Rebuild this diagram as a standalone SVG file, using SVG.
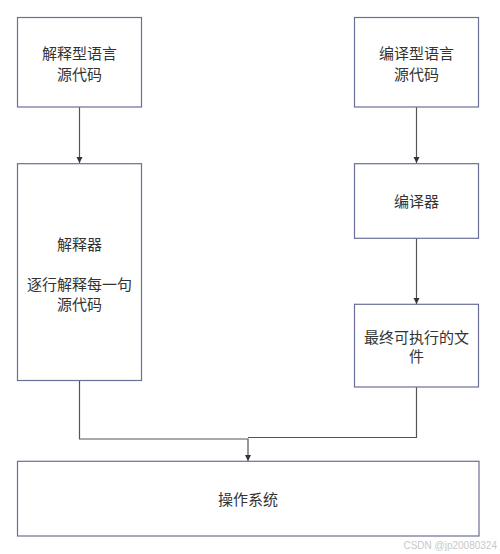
<svg xmlns="http://www.w3.org/2000/svg" width="500" height="554" viewBox="0 0 500 554">
<style>
.box{fill:#ffffff;stroke:#6b6f98;stroke-width:1.2}
.t{font-family:"Noto Sans CJK SC","Noto Sans",sans-serif;font-size:15px;fill:#333333;text-anchor:middle}
.c{fill:none;stroke:#555555;stroke-width:1.2}
.wm{font-family:"Liberation Sans",Arial,sans-serif;font-size:10px;fill:#c8c8c8;text-anchor:end}
</style>
<defs>
<marker id="arr" markerWidth="8" markerHeight="8" refX="6" refY="3" orient="auto" markerUnits="userSpaceOnUse">
<path d="M0,0 L6,3 L0,6 Z" fill="#333333"/>
</marker>
</defs>
<rect width="500" height="554" fill="#ffffff"/>
<g id="connectors">
<path class="c" d="M79.5,107 V163" marker-end="url(#arr)"/>
<path class="c" d="M416.5,107 V163" marker-end="url(#arr)"/>
<path class="c" d="M416.5,238.3 V304" marker-end="url(#arr)"/>
<path class="c" d="M79.5,380.7 V439 H248 V461" marker-end="url(#arr)"/>
<path class="c" d="M416.5,387 V437.5 H248"/>
</g>
<g id="interp-src">
<rect class="box" x="17.5" y="17.5" width="124" height="89.5"/>
<text class="t" x="79.5" y="58.5">解释型语言</text>
<text class="t" x="79.5" y="79.5">源代码</text>
</g>
<g id="compile-src">
<rect class="box" x="354.5" y="17.5" width="124" height="89.5"/>
<text class="t" x="416.5" y="58.5">编译型语言</text>
<text class="t" x="416.5" y="79.5">源代码</text>
</g>
<g id="interpreter">
<rect class="box" x="17.5" y="163.7" width="124" height="216.8"/>
<text class="t" x="79.5" y="249.5">解释器</text>
<text class="t" x="79.5" y="289.5">逐行解释每一句</text>
<text class="t" x="79.5" y="309.5">源代码</text>
</g>
<g id="compiler">
<rect class="box" x="354.5" y="163.7" width="124" height="74.6"/>
<text class="t" x="416.5" y="207">编译器</text>
</g>
<g id="executable">
<rect class="box" x="354.5" y="304.3" width="124" height="82.7"/>
<text class="t" x="416.5" y="343">最终可执行的文</text>
<text class="t" x="416.5" y="362">件</text>
</g>
<g id="os">
<rect class="box" x="17.5" y="461.3" width="461.5" height="74.7"/>
<text class="t" x="248" y="505">操作系统</text>
</g>
<text class="wm" x="497" y="549">CSDN @jp20080324</text>
</svg>
